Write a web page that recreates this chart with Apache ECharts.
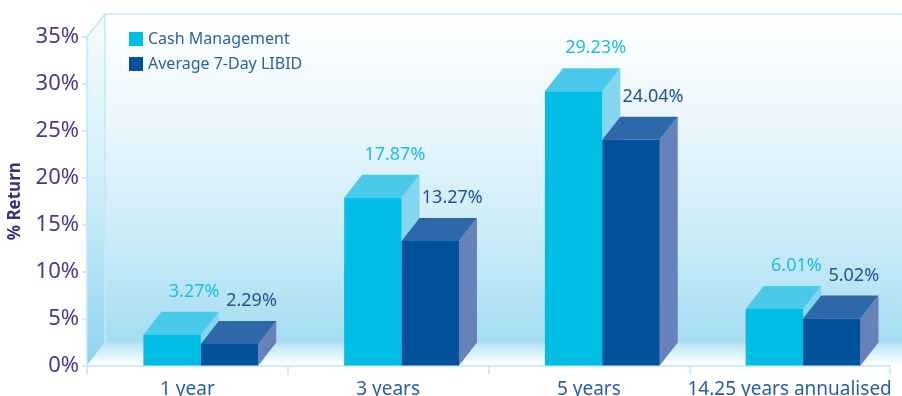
<!DOCTYPE html>
<html><head><meta charset="utf-8">
<script src="https://cdn.jsdelivr.net/npm/echarts@6/dist/echarts.min.js"></script>
<style>html,body{margin:0;padding:0;background:#fff}#c{width:902px;height:396px}</style>
</head><body><div id="c"></div>
<script>
const categories = ['1 year', '3 years', '5 years', '14.25 years annualised'];
const seriesNames = ['Cash Management', 'Average 7-Day LIBID'];
const cashManagement = [3.27, 17.87, 29.23, 6.01];
const libid = [2.29, 13.27, 24.04, 5.02];
const yMin = 0, yMax = 35, yStep = 5;

const FONT = '"Noto Sans", "Open Sans", sans-serif';
const DX = 18, DY = -23;
const palettes = [
  { front: '#00bde6', top: '#4bc9ea', side: '#84d6f0', label: '#1dbde6', weight: 'normal' },
  { front: '#04519b', top: '#2f68a8', side: '#6782b9', label: '#1d539c', weight: 'normal' }
];

function barRender(si) {
  const c = palettes[si];
  return function (params, api) {
    const cat = api.value(0), v = api.value(1);
    const base = api.coord([cat, 0]);
    const top = api.coord([cat, v]);
    const bw = api.size([1, 0])[0];
    const w = bw * 0.286;
    const xL = base[0] - bw * 0.219 + si * w;
    const xR = xL + w;
    const yB = base[1], yT = top[1];
    return {
      type: 'group', children: [
        { type: 'polygon', shape: { points: [[xR, yT], [xR + DX, yT + DY], [xR + DX, yB + DY], [xR, yB]] }, style: { fill: c.side } },
        { type: 'polygon', shape: { points: [[xL, yT], [xL + DX, yT + DY], [xR + DX, yT + DY], [xR, yT]] }, style: { fill: c.top } },
        { type: 'rect', shape: { x: xL, y: yT, width: w, height: yB - yT }, style: { fill: c.front } },
        { type: 'text', x: (xL + xR) / 2 + 22, y: yT + DY - 20,
          style: { text: v.toFixed(2) + '%', fill: c.label, font: c.weight + ' 18px ' + FONT, align: 'center', verticalAlign: 'middle' } }
      ]
    };
  };
}

function wallRender(params, api) {
  const bw = api.size([1, 0])[0];
  const p0 = api.coord([0, yMin]);
  const pT = api.coord([0, yMax]);
  const x0 = p0[0] - bw / 2, x1 = x0 + bw * categories.length;
  const y0 = p0[1], yT = pT[1];
  const edge = '#c3e8f7';
  return {
    type: 'group', children: [
      { type: 'rect', shape: { x: x0 + DX, y: yT + DY, width: x1 - x0 + 40, height: y0 - yT },
        style: { fill: { type: 'linear', x: 0, y: 0, x2: 0, y2: 1, colorStops: [
          { offset: 0, color: '#ffffff' }, { offset: 0.35, color: '#e9f6fc' }, { offset: 0.7, color: '#c8ebf8' }, { offset: 1, color: '#a5dcf1' }] } } },
      { type: 'polygon', shape: { points: [[x0, yT], [x0 + DX, yT + DY], [x0 + DX, y0 + DY], [x0, y0]] },
        style: { fill: { type: 'linear', x: 0, y: 0, x2: 0, y2: 1, colorStops: [
          { offset: 0, color: '#f6fcfe' }, { offset: 0.5, color: '#cdeef9' }, { offset: 1, color: '#8fd3ee' }] } } },
      { type: 'polygon', shape: { points: [[x0, y0], [x0 + DX, y0 + DY], [x1 + DX + 40, y0 + DY], [x1 + 40, y0]] },
        style: { fill: { type: 'linear', x: 0, y: 0, x2: 0, y2: 1, colorStops: [
          { offset: 0, color: '#a9ddf1' }, { offset: 0.12, color: '#bfe7f6' }, { offset: 0.6, color: '#e2f5fc' }, { offset: 1, color: '#ffffff' }] } } },
      { type: 'line', shape: { x1: x0 + DX, y1: yT + DY, x2: x1 + DX + 40, y2: yT + DY }, style: { stroke: edge, lineWidth: 1.5 } },
      { type: 'line', shape: { x1: x0, y1: yT, x2: x0 + DX, y2: yT + DY }, style: { stroke: edge, lineWidth: 1.5 } },
      { type: 'line', shape: { x1: x0 + DX, y1: yT + DY, x2: x0 + DX, y2: y0 + DY }, style: { stroke: edge, lineWidth: 1.5 } }
    ]
  };
}

const chart = echarts.init(document.getElementById('c'), null, { renderer: 'canvas' });
chart.setOption({
  animation: false,
  backgroundColor: '#ffffff',
  grid: { left: 87, right: 12, top: 37, bottom: 30.5, containLabel: false, outerBoundsMode: 'none' },
  legend: {
    data: seriesNames, orient: 'vertical', left: 129, top: 31, padding: 0, itemWidth: 14, itemHeight: 14, itemGap: 9,
    icon: 'rect', textStyle: { color: '#2d62a5', fontSize: 16, fontFamily: FONT }
  },
  xAxis: {
    type: 'category', data: categories, boundaryGap: true,
    axisLine: { show: true, lineStyle: { color: '#c0e6f6', width: 1.5 } },
    axisTick: { show: true, interval: 0, length: 9, lineStyle: { color: '#c0e6f6', width: 1.5 } },
    axisLabel: { interval: 0, color: '#2a5ea4', fontSize: 19, fontFamily: FONT, margin: 15 },
    splitLine: { show: false }
  },
  yAxis: {
    type: 'value', min: yMin, max: yMax, interval: yStep,
    name: '% Return', nameLocation: 'middle', nameRotate: 90, nameGap: 63,
    nameTextStyle: { color: '#3a2f7e', fontSize: 17, fontWeight: 'bold', fontFamily: FONT },
    axisLine: { show: true, lineStyle: { color: '#c0e6f6', width: 1.5 } },
    axisTick: { show: true, length: 5, lineStyle: { color: '#c0e6f6', width: 1.5 } },
    axisLabel: { formatter: '{value}%', color: '#463c8e', fontSize: 22, fontFamily: FONT, margin: 8 },
    splitLine: { show: false }
  },
  series: [
    { type: 'custom', name: 'walls', silent: true, z: 0, renderItem: wallRender, data: [[0, 0]], legendHoverLink: false },
    { type: 'custom', name: seriesNames[0], z: 2, itemStyle: { color: palettes[0].front }, renderItem: barRender(0),
      data: cashManagement.map((v, i) => [i, v]) },
    { type: 'custom', name: seriesNames[1], z: 3, itemStyle: { color: palettes[1].front }, renderItem: barRender(1),
      data: libid.map((v, i) => [i, v]) }
  ]
});
</script></body></html>
